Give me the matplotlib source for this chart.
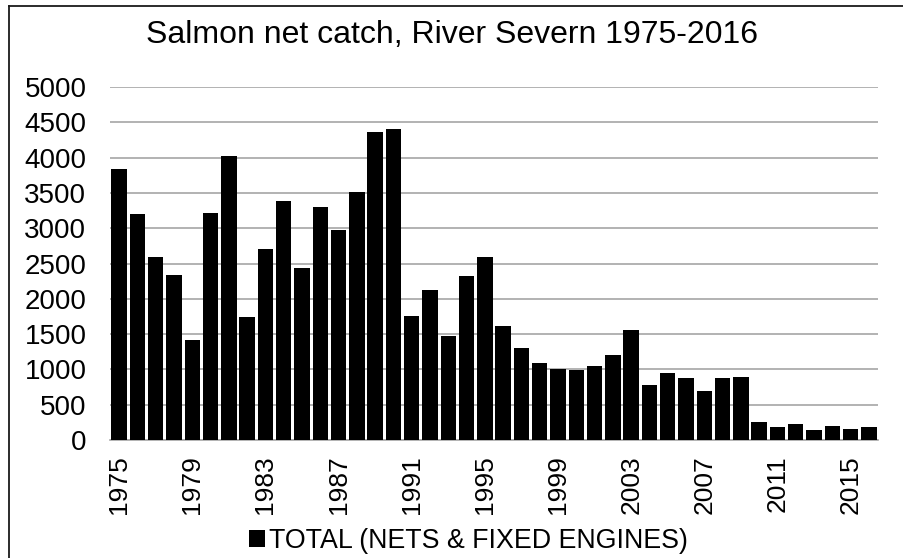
import matplotlib
matplotlib.use("Agg")
import matplotlib.pyplot as plt
from matplotlib.lines import Line2D

years = list(range(1975, 2017))
catch = [3837, 3199, 2599, 2339, 1418, 3209, 4017, 1749, 2703, 3379,
         2434, 3303, 2968, 3516, 4367, 4400, 1758, 2122, 1474, 2330,
         2599, 1621, 1300, 1087, 1007, 988, 1044, 1205, 1555, 782,
         948, 873, 689, 882, 892, 250, 184, 222, 146, 193, 151, 184]
tick_years = list(range(1975, 2017, 4))
series_label = "TOTAL (NETS & FIXED ENGINES)"
title = "Salmon net catch, River Severn 1975-2016"

plt.rcParams['font.family'] = ['Liberation Sans', 'DejaVu Sans']

fig = plt.figure(figsize=(9.04, 5.58), dpi=100)
ax = fig.add_axes([110/904, 1-440/558, 768/904, 353/558])

x = list(range(len(years)))
ax.bar(x, catch, width=0.85, color='black', label=series_label, zorder=3)

ax.set_xlim(-0.5, len(years) - 0.5)
ax.set_ylim(0, 5000)
ax.set_yticks(range(0, 5001, 500))
ax.set_yticklabels([str(v) for v in range(0, 5001, 500)], fontsize=20)
ax.set_xticks([years.index(y) for y in tick_years])
ax.set_xticklabels([str(y) for y in tick_years], rotation=90, fontsize=19)
ax.tick_params(axis='x', length=0, pad=11)
ax.tick_params(axis='y', length=0, pad=17)
ax.grid(axis='y', color='#a6a6a6', linewidth=1.2, zorder=0)
for s in ['top', 'right', 'left']:
    ax.spines[s].set_visible(False)
ax.spines['bottom'].set_color('#a6a6a6')
ax.spines['bottom'].set_linewidth(1.2)

fig.text(0.5, 1-35/558, title, ha='center', va='center', fontsize=23)

fig.legend(loc='center', bbox_to_anchor=(468/904, 1-541/558), frameon=False,
           fontsize=19.3, handlelength=0.6, handleheight=0.6, handletextpad=0.15)

# partial outer frame (top and left edges, as in the cropped original)
fx, fy = 8.5/904, 1-5.5/558
fig.add_artist(Line2D([fx, 1.0], [fy, fy], transform=fig.transFigure,
                      color='#1a1a1a', linewidth=1.3))
fig.add_artist(Line2D([fx, fx], [fy, 0.0], transform=fig.transFigure,
                      color='#1a1a1a', linewidth=1.3))

fig.savefig("out.png", dpi=100)
